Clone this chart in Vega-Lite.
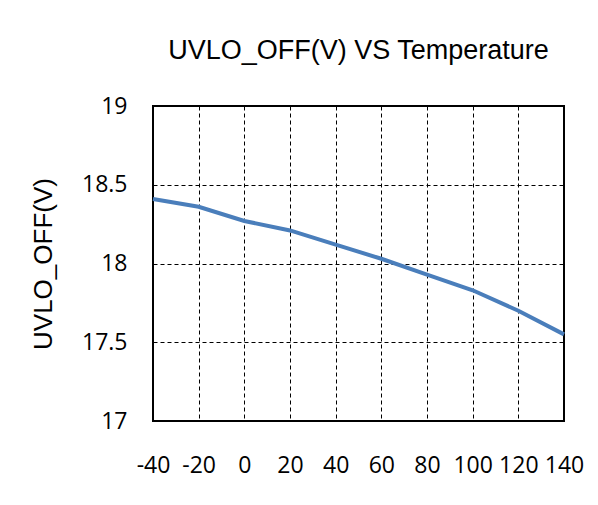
{
  "$schema": "https://vega.github.io/schema/vega-lite/v6.json",
  "width": 411,
  "height": 315,
  "autosize": {"type": "none"},
  "padding": {"left": 153, "top": 106, "right": 34, "bottom": 84},
  "background": "white",
  "title": {
    "text": "UVLO_OFF(V) VS Temperature",
    "font": "Liberation Sans",
    "fontSize": 27,
    "fontWeight": "normal",
    "color": "black",
    "anchor": "middle",
    "frame": "group",
    "baseline": "alphabetic",
    "offset": 9
  },
  "config": {"view": {"stroke": "black", "strokeWidth": 2}},
  "data": {
    "values": [
      {"temperature": -40, "uvlo_off": 18.41},
      {"temperature": -20, "uvlo_off": 18.36},
      {"temperature": 0, "uvlo_off": 18.27},
      {"temperature": 20, "uvlo_off": 18.21},
      {"temperature": 40, "uvlo_off": 18.12},
      {"temperature": 60, "uvlo_off": 18.03},
      {"temperature": 80, "uvlo_off": 17.93},
      {"temperature": 100, "uvlo_off": 17.83},
      {"temperature": 120, "uvlo_off": 17.70},
      {"temperature": 140, "uvlo_off": 17.55}
    ]
  },
  "mark": {"type": "line", "color": "#4a7ebb", "strokeWidth": 4},
  "encoding": {
    "x": {
      "field": "temperature",
      "type": "quantitative",
      "scale": {"domain": [-40, 140], "nice": false, "zero": false},
      "axis": {
        "title": null,
        "values": [-40, -20, 0, 20, 40, 60, 80, 100, 120, 140],
        "labelExpr": "toString(datum.value)",
        "grid": true,
        "gridColor": "black",
        "gridDash": [4, 3],
        "gridWidth": 1,
        "gridOpacity": 1,
        "domain": false,
        "ticks": false,
        "tickSize": 0,
        "labelPadding": 33,
        "labelFont": "Open Sans",
        "labelFontSize": 23,
        "labelColor": "black",
        "labelFlush": false,
        "labelOverlap": false
      }
    },
    "y": {
      "field": "uvlo_off",
      "type": "quantitative",
      "scale": {"domain": [17, 19], "nice": false, "zero": false},
      "axis": {
        "title": "UVLO_OFF(V)",
        "titleFont": "Liberation Sans",
        "titleFontSize": 26,
        "titleFontWeight": "normal",
        "titleColor": "black",
        "titlePadding": 25,
        "values": [17, 17.5, 18, 18.5, 19],
        "labelExpr": "toString(datum.value)",
        "grid": true,
        "gridColor": "black",
        "gridDash": [4, 3],
        "gridWidth": 1,
        "gridOpacity": 1,
        "domain": false,
        "ticks": false,
        "tickSize": 0,
        "labelPadding": 26,
        "labelFont": "Open Sans",
        "labelFontSize": 23,
        "labelColor": "black",
        "labelFlush": false,
        "labelOverlap": false
      }
    }
  }
}
